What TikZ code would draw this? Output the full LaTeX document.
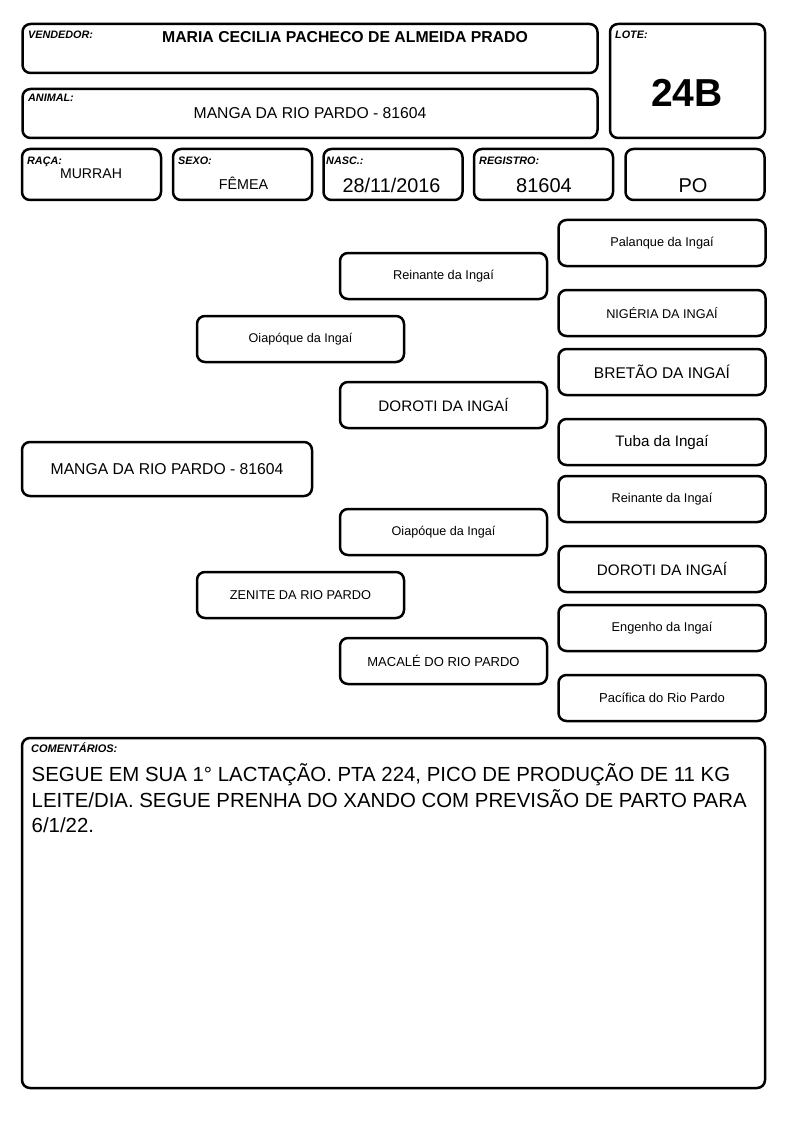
\documentclass[tikz,border=0pt]{standalone}
\usepackage{fontspec}
\setmainfont{Liberation Sans}
\usetikzlibrary{positioning}
\newcommand{\fsz}[1]{\fontsize{#1}{#1}\selectfont}
\tikzset{
  fichabox/.style={draw=black, line width=2.5pt, rounded corners=8pt, inner sep=0pt},
  pedbox/.style={fichabox, minimum width=207pt, minimum height=46pt, align=center},
  fieldlabel/.style={font=\fsz{10.8}\bfseries\itshape, anchor=base west, inner sep=0pt},
  fieldvalue/.style={anchor=base, inner sep=0pt},
}

\begin{document}
\begin{tikzpicture}[x=1pt, y=-1pt]
\useasboundingbox[fill=white] (0,0) rectangle (794,1123);
% header
\node[fichabox, minimum width=575pt, minimum height=49pt] (vendedor) at (310,48.5) {};
\node[fichabox, minimum width=575pt, minimum height=49pt] (animal) at (310,113.5) {};
\node[fichabox, minimum width=155pt, minimum height=114pt] (lote) at (687.5,81) {};
\node[fieldlabel] (vendedorlbl) at (28,39) {VENDEDOR:};
\node[fieldvalue, font=\fsz{15.8}\bfseries] (vendedornome) at (345,42.7) {MARIA CECILIA PACHECO DE ALMEIDA PRADO};
\node[fieldlabel] (animallbl) at (28,102) {ANIMAL:};
\node[fieldvalue, font=\fsz{15.7}] (animalnome) at (310,119) {MANGA DA RIO PARDO - 81604};
\node[fieldlabel] (lotelbl) at (615,39) {LOTE:};
\node[fieldvalue, font=\fsz{39}\bfseries] (lotenum) at (687,106.7) {24B};
% data row
\foreach \nm/\cx/\lx/\lbl in {raca/91.5/27/RAÇA:, sexo/242.5/178/SEXO:, nasc/393/326/NASC.:,
    registro/543.5/479/REGISTRO:, po/695/629/{}} {
  \node[fichabox, minimum width=139pt, minimum height=51pt] (\nm) at (\cx,174.5) {};
  \node[fieldlabel] (\nm lbl) at (\lx,164.5) {\lbl};
}
\node[fieldvalue, font=\fsz{14.1}] (racaval) at (91,178.3) {MURRAH};
\node[fieldvalue, font=\fsz{14.3}] (sexoval) at (243.5,189.3) {FÊMEA};
\node[fieldvalue, font=\fsz{19.8}] (nascval) at (391.5,192.7) {28/11/2016};
\node[fieldvalue, font=\fsz{20}] (registroval) at (544,192.7) {81604};
\node[fieldvalue, font=\fsz{20}] (poval) at (693,192.7) {PO};
% pedigree
\node[fichabox, minimum width=290pt, minimum height=54pt, font=\fsz{15.7}] (manga) at (167,469) {MANGA DA RIO PARDO - 81604};
\foreach \nm/\cx/\cy/\fs/\txt in {
    oiapoque/300.5/339/12.6/{Oiapóque da Ingaí},
    zenite/300.5/595/12.8/{ZENITE DA RIO PARDO},
    reinante/443.5/276/12.75/{Reinante da Ingaí},
    doroti/443.5/405/15.2/{DOROTI DA INGAÍ},
    oiapoquem/443.5/532/12.6/{Oiapóque da Ingaí},
    macale/443.5/661/13/{MACALÉ DO RIO PARDO},
    palanque/662/243/12.75/{Palanque da Ingaí},
    nigeria/662/313/12.7/{NIGÉRIA DA INGAÍ},
    bretao/662/372/15.5/{BRETÃO DA INGAÍ},
    tuba/662/442/15.2/{Tuba da Ingaí},
    reinantem/662/499/12.75/{Reinante da Ingaí},
    dorotim/662/569/15.2/{DOROTI DA INGAÍ},
    engenho/662/628/12.75/{Engenho da Ingaí},
    pacifica/662/698/13/{Pacífica do Rio Pardo}} {
  \node[pedbox, font=\fsz{\fs}] (\nm) at (\cx,\cy) {\txt};
}
% comments
\node[fichabox, minimum width=743pt, minimum height=350pt] (comentarios) at (393.5,913) {};
\node[fieldlabel, font=\fsz{11}\bfseries\itshape] (comentarioslbl) at (31,752.3) {COMENTÁRIOS:};
\node[anchor=north west, inner sep=0pt, align=left, font=\fontsize{20.4}{25.5}\selectfont]
  (comentariostxt) at (31.5,763.5) {SEGUE EM SUA 1° LACTAÇÃO. PTA 224, PICO DE PRODUÇÃO DE 11 KG\\
  LEITE/DIA. SEGUE PRENHA DO XANDO COM PREVISÃO DE PARTO PARA\\
  6/1/22.};
\end{tikzpicture}
\end{document}
